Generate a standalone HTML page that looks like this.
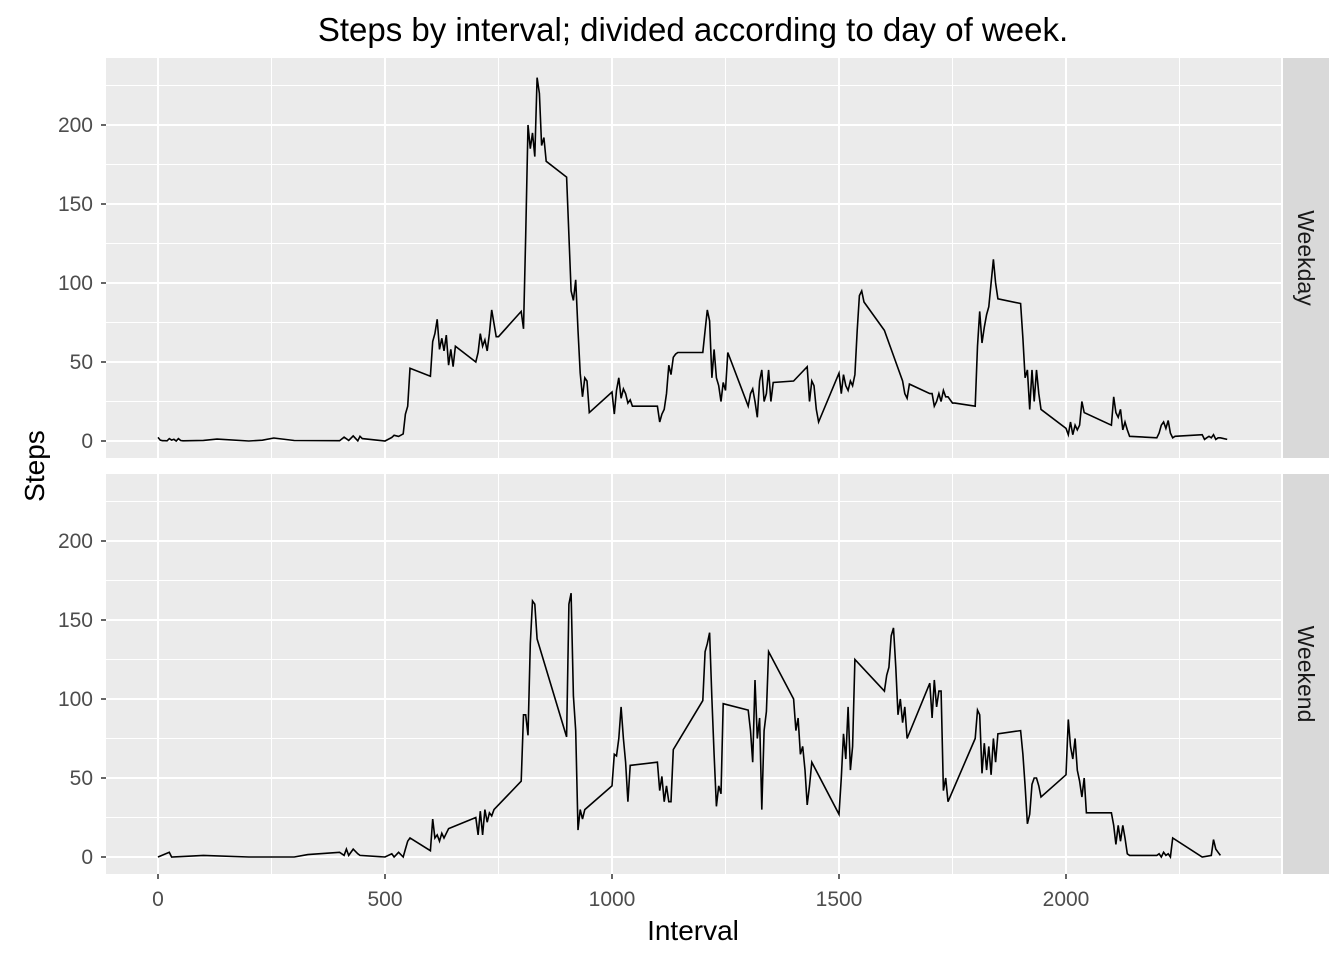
<!DOCTYPE html>
<html><head><meta charset="utf-8"><style>
body{margin:0;background:#fff;}
svg{display:block;font-family:"Liberation Sans",Arial,sans-serif;}
</style></head><body>
<svg id="chart" width="1344" height="960"></svg>
<script>
const wdIntervals=[0,5,10,15,20,25,30,35,40,45,50,55,100,130,200,230,255,300,400,410,420,430,440,445,450,500,515,520,530,540,545,550,555,600,605,610,615,620,625,630,635,640,645,650,655,700,705,710,715,720,725,730,735,745,750,800,805,810,815,820,825,830,835,840,845,850,855,900,910,915,920,925,930,935,940,945,950,1000,1005,1010,1015,1020,1025,1030,1035,1040,1045,1050,1055,1100,1105,1110,1115,1120,1125,1130,1135,1140,1145,1150,1155,1200,1205,1210,1215,1220,1225,1230,1235,1240,1245,1250,1255,1300,1305,1310,1315,1320,1325,1330,1335,1340,1345,1350,1355,1400,1430,1435,1440,1445,1450,1455,1500,1505,1510,1515,1520,1525,1530,1535,1540,1545,1550,1555,1600,1640,1645,1650,1655,1700,1705,1710,1715,1720,1725,1730,1735,1740,1745,1750,1755,1800,1805,1810,1815,1820,1825,1830,1835,1840,1845,1850,1900,1905,1910,1915,1920,1925,1930,1935,1940,1945,2000,2005,2010,2015,2020,2025,2030,2035,2040,2100,2105,2110,2115,2120,2125,2130,2135,2140,2200,2205,2210,2215,2220,2225,2230,2235,2240,2300,2305,2310,2315,2320,2325,2330,2335,2340,2355];
const wdSteps=[2.3,0.5,0.2,0.2,0.1,1.5,0.6,1.1,0,1.5,0.3,0.1,0.4,1.2,0,0.5,1.9,0.3,0.2,2.5,0.4,3.2,0.1,3,1.5,0,2.2,3.6,2.9,4.5,17,22,46,41,63,68,77,58,65,57,67,48,58,47,60,50,56,68,60,64,57,68,83,66,66,82,71,130,200,185,195,180,230,220,187,192,177,167,95,89,102,70,43,28,40,38,18,31,17,32,40,27,33,30,24,26,22,22,22,22,12,17,20,30,48,42,53,55,56,56,56,56,70,83,76,40,58,40,35,25,37,32,56,22,30,33,25,15,38,45,25,30,45,25,37,38,47,25,38,35,20,12,43,30,42,35,32,38,35,42,70,92,95,88,70,38,30,27,36,30,30,22,25,30,25,32,28,28,26,24,24,22,60,82,62,72,80,85,100,115,100,90,87,65,40,45,20,45,25,45,30,20,8,4,12,4,10,7,10,25,18,10,28,18,15,20,7,12,7,3,2,5,10,12,8,13,5,2,3,4,1,2,3,2,4,1,2,2,1];
const weIntervals=[0,25,30,100,200,300,330,400,410,415,420,430,440,445,500,515,520,530,540,545,550,555,600,605,610,615,620,625,630,635,640,700,705,710,715,720,725,730,735,740,800,805,810,815,820,825,830,835,900,905,910,915,920,925,930,935,940,1000,1005,1010,1015,1020,1025,1030,1035,1040,1100,1105,1110,1115,1120,1125,1130,1135,1200,1205,1210,1215,1220,1225,1230,1235,1240,1245,1300,1305,1310,1315,1320,1325,1330,1335,1340,1345,1400,1405,1410,1415,1420,1425,1430,1435,1440,1500,1505,1510,1515,1520,1525,1530,1535,1600,1605,1610,1615,1620,1625,1630,1635,1640,1645,1650,1700,1705,1710,1715,1720,1725,1730,1735,1740,1800,1805,1810,1815,1820,1825,1830,1835,1840,1845,1850,1900,1905,1910,1915,1920,1925,1930,1935,1940,1945,2000,2005,2010,2015,2020,2025,2030,2035,2040,2045,2100,2105,2110,2115,2120,2125,2130,2135,2140,2200,2205,2210,2215,2220,2225,2230,2235,2300,2320,2325,2330,2335,2340];
const weSteps=[0,3,0,1,0,0,1.5,3,1,5,1,5,2,1,0,2,0,3,0,5,10,12,4,24,12,14,10,15,12,15,18,25,14,29,14,30,22,28,26,30,48,90,90,77,135,162,160,138,76,160,167,102,80,17,30,24,30,45,65,64,75,95,75,60,35,58,60,42,51,35,45,35,35,68,99,130,135,142,100,65,32,45,40,97,93,80,60,112,75,88,30,80,92,130,100,80,88,65,70,55,33,45,60,27,50,78,62,95,55,70,125,105,115,120,140,145,120,90,100,85,95,75,110,88,112,95,105,105,42,50,35,75,93,90,53,72,55,70,52,75,60,78,80,65,45,21,27,46,50,50,45,38,52,87,70,62,75,55,48,38,50,28,28,20,8,20,10,20,12,2,1,1,2,0,3,1,2,0,12,0,1,11,5,3,1];
const panelLabels=['Weekday','Weekend'];
const xTicks=[0,500,1000,1500,2000];
const yTicks=[0,50,100,150,200];

const svg=document.getElementById('chart');
const NS='http://www.w3.org/2000/svg';
function mk(t,a,txt){const e=document.createElementNS(NS,t);for(const k in a)e.setAttribute(k,a[k]);if(txt!==undefined)e.textContent=txt;svg.appendChild(e);return e;}
const PX0=106,PX1=1281;
const xs=v=>158+v*0.454;
const panels=[{top:58,zero:441,iv:wdIntervals,st:wdSteps},{top:474,zero:857,iv:weIntervals,st:weSteps}];
let t=mk('text',{x:693,y:41,'font-size':'33','text-anchor':'middle',fill:'#000'},'Steps by interval; divided according to day of week.');

panels.forEach((p,i)=>{
  const ys=v=>p.zero-v*1.58;
  let bg=mk('rect',{x:PX0,y:p.top,width:PX1-PX0,height:400,fill:'#ebebeb'});
  
  [25,75,125,175,225].forEach(v=>{let l=mk('line',{x1:PX0,x2:PX1,y1:ys(v),y2:ys(v),stroke:'#fff','stroke-width':'1'});});
  [250,750,1250,1750,2250].forEach(v=>{let l=mk('line',{x1:xs(v),x2:xs(v),y1:p.top,y2:p.top+400,stroke:'#fff','stroke-width':'1'});});
  yTicks.forEach(v=>{
    let l=mk('line',{x1:PX0,x2:PX1,y1:ys(v),y2:ys(v),stroke:'#fff','stroke-width':'2'});
    let tk=mk('line',{x1:PX0-5,x2:PX0,y1:ys(v),y2:ys(v),stroke:'#333','stroke-width':'1.5'});
    let tl=mk('text',{x:PX0-13,y:ys(v)+7,'font-size':'21','text-anchor':'end',fill:'#4d4d4d'},String(v));
  });
  xTicks.forEach(v=>{let l=mk('line',{x1:xs(v),x2:xs(v),y1:p.top,y2:p.top+400,stroke:'#fff','stroke-width':'2'});});
  let d=p.iv.map((v,k)=>(k?'L':'M')+xs(v).toFixed(1)+','+ys(p.st[k]).toFixed(1)).join('');
  let ln=mk('path',{d:d,fill:'none',stroke:'#000','stroke-width':'1.6'});
  
  let sr=mk('rect',{x:1283,y:p.top,width:46,height:400,fill:'#d9d9d9'});
  
  let st=mk('text',{x:1298,y:p.top+200,'font-size':'23','text-anchor':'middle',fill:'#1a1a1a',transform:'rotate(90 1298 '+(p.top+200)+')'},panelLabels[i]);
  
});
xTicks.forEach(v=>{
  let tk=mk('line',{x1:xs(v),x2:xs(v),y1:874,y2:879,stroke:'#333','stroke-width':'1.5'});
  let tl=mk('text',{x:xs(v),y:906,'font-size':'21','text-anchor':'middle',fill:'#4d4d4d'},String(v));
});
let xt=mk('text',{x:693,y:940,'font-size':'28','text-anchor':'middle',fill:'#000'},'Interval');

let yt=mk('text',{x:44,y:466,'font-size':'28','text-anchor':'middle',fill:'#000',transform:'rotate(-90 44 466)'},'Steps');

</script>
</body></html>
